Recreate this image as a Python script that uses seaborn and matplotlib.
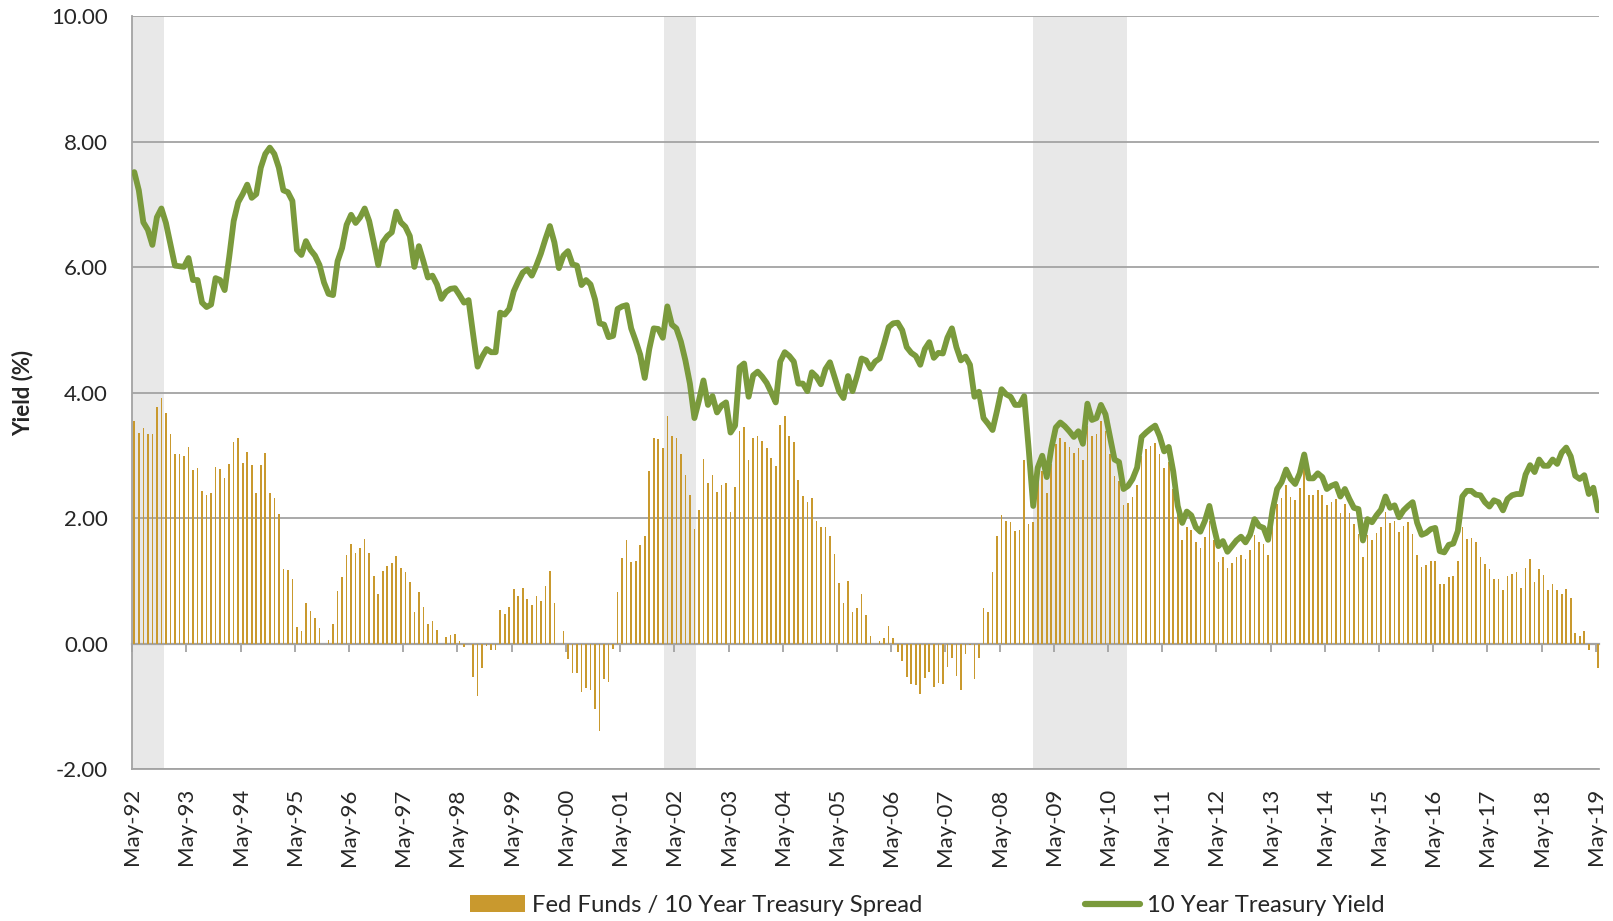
import numpy as np
import pandas as pd
import matplotlib
matplotlib.use("Agg")
import matplotlib.pyplot as plt
from matplotlib.patches import Patch
from matplotlib.lines import Line2D
import seaborn as sns

# ---------------- data (monthly, May-92 .. May-19) ----------------
spread = [
    3.56, 3.37, 3.45, 3.35, 3.35, 3.78, 3.92, 3.68, 3.35, 3.02, 3.02, 3.00,
    3.14, 2.77, 2.80, 2.44, 2.37, 2.41, 2.82, 2.79, 2.64, 2.87, 3.22, 3.28,
    2.89, 3.06, 2.85, 2.41, 2.85, 3.05, 2.40, 2.32, 2.07, 1.19, 1.18, 1.04,
    0.27, 0.20, 0.66, 0.53, 0.42, 0.26, 0.00, 0.06, 0.32, 0.84, 1.07, 1.42,
    1.60, 1.45, 1.53, 1.68, 1.45, 1.08, 0.79, 1.16, 1.24, 1.29, 1.40, 1.21,
    1.15, 0.99, 0.51, 0.83, 0.59, 0.32, 0.37, 0.23, 0.00, 0.11, 0.14, 0.16,
    0.04, -0.05, 0.00, -0.52, -0.83, -0.39, -0.03, -0.10, -0.10, 0.54, 0.48, 0.59,
    0.87, 0.77, 0.90, 0.72, 0.62, 0.77, 0.68, 0.93, 1.16, 0.65, 0.00, 0.20,
    -0.24, -0.46, -0.46, -0.77, -0.70, -0.74, -1.03, -1.38, -0.56, -0.60, -0.08, 0.83,
    1.37, 1.65, 1.30, 1.33, 1.58, 1.72, 2.75, 3.29, 3.27, 3.13, 3.64, 3.32,
    3.28, 3.03, 2.70, 2.38, 1.83, 2.13, 2.95, 2.56, 2.70, 2.43, 2.54, 2.57,
    2.11, 2.50, 3.40, 3.46, 2.93, 3.28, 3.32, 3.24, 3.13, 2.97, 2.83, 3.49,
    3.64, 3.32, 3.22, 2.61, 2.36, 2.27, 2.33, 1.96, 1.86, 1.86, 1.72, 1.44,
    0.97, 0.65, 1.01, 0.51, 0.57, 0.79, 0.47, 0.13, 0.00, 0.04, 0.09, 0.29,
    0.10, -0.12, -0.27, -0.52, -0.63, -0.65, -0.80, -0.54, -0.44, -0.68, -0.62, -0.63,
    -0.36, -0.23, -0.51, -0.73, -0.16, -0.02, -0.56, -0.23, 0.58, 0.51, 1.15, 1.72,
    2.05, 1.96, 1.94, 1.80, 1.82, 2.94, 1.92, 1.94, 2.85, 2.75, 2.40, 2.87,
    3.19, 3.28, 3.22, 3.14, 3.05, 3.13, 2.94, 3.48, 3.32, 3.35, 3.56, 3.39,
    3.03, 2.68, 2.60, 2.21, 2.25, 2.34, 2.54, 2.99, 3.11, 3.16, 3.21, 3.03,
    2.81, 2.90, 2.47, 2.08, 1.66, 1.86, 1.82, 1.62, 1.53, 1.71, 1.96, 1.65,
    1.30, 1.39, 1.21, 1.29, 1.38, 1.42, 1.36, 1.50, 1.73, 1.62, 1.59, 1.42,
    1.90, 2.23, 2.32, 2.54, 2.35, 2.29, 2.49, 2.81, 2.38, 2.38, 2.46, 2.38,
    2.22, 2.27, 2.31, 2.09, 2.23, 2.08, 1.91, 1.75, 1.38, 1.74, 1.66, 1.77,
    1.86, 2.10, 1.93, 1.96, 1.79, 1.88, 1.94, 1.76, 1.42, 1.22, 1.26, 1.32,
    1.33, 0.96, 0.95, 1.07, 1.08, 1.32, 1.86, 1.68, 1.69, 1.63, 1.38, 1.27,
    1.19, 1.04, 1.04, 0.86, 1.08, 1.12, 1.15, 0.90, 1.21, 1.35, 0.98, 1.19,
    1.10, 0.86, 0.95, 0.86, 0.80, 0.88, 0.74, 0.18, 0.13, 0.21, -0.09, 0.00,
    -0.38,
]

treasury_10y = [
    7.52, 7.23, 6.72, 6.60, 6.36, 6.80, 6.94, 6.71, 6.37, 6.03, 6.02, 6.01,
    6.15, 5.80, 5.80, 5.44, 5.37, 5.41, 5.83, 5.80, 5.64, 6.16, 6.74, 7.04,
    7.17, 7.32, 7.11, 7.17, 7.59, 7.81, 7.91, 7.81, 7.59, 7.23, 7.20, 7.06,
    6.28, 6.20, 6.42, 6.28, 6.19, 6.04, 5.76, 5.58, 5.56, 6.10, 6.31, 6.68,
    6.84, 6.71, 6.80, 6.94, 6.74, 6.40, 6.04, 6.40, 6.50, 6.56, 6.89, 6.72,
    6.65, 6.50, 6.01, 6.34, 6.10, 5.84, 5.87, 5.73, 5.50, 5.61, 5.66, 5.67,
    5.56, 5.44, 5.48, 4.94, 4.42, 4.58, 4.70, 4.65, 4.65, 5.28, 5.25, 5.34,
    5.62, 5.78, 5.92, 5.97, 5.87, 6.03, 6.22, 6.45, 6.66, 6.40, 5.99, 6.19,
    6.26, 6.05, 6.03, 5.72, 5.80, 5.73, 5.49, 5.11, 5.09, 4.89, 4.91, 5.34,
    5.38, 5.40, 5.03, 4.83, 4.61, 4.24, 4.70, 5.03, 5.02, 4.88, 5.38, 5.09,
    5.03, 4.82, 4.52, 4.15, 3.60, 3.88, 4.20, 3.81, 3.95, 3.69, 3.80, 3.85,
    3.37, 3.48, 4.41, 4.47, 3.94, 4.28, 4.34, 4.26, 4.16, 4.01, 3.85, 4.50,
    4.65, 4.59, 4.50, 4.15, 4.15, 4.03, 4.33, 4.26, 4.14, 4.38, 4.49, 4.26,
    4.03, 3.92, 4.27, 4.03, 4.27, 4.55, 4.52, 4.39, 4.50, 4.55, 4.79, 5.05,
    5.11, 5.12, 5.00, 4.73, 4.64, 4.59, 4.45, 4.70, 4.81, 4.56, 4.64, 4.63,
    4.88, 5.03, 4.73, 4.52, 4.58, 4.45, 3.94, 4.02, 3.60, 3.51, 3.41, 3.72,
    4.06, 3.98, 3.94, 3.81, 3.81, 3.95, 3.11, 2.20, 2.81, 3.00, 2.66, 3.11,
    3.45, 3.53, 3.47, 3.39, 3.30, 3.39, 3.19, 3.83, 3.57, 3.60, 3.81, 3.66,
    3.30, 2.94, 2.90, 2.47, 2.52, 2.63, 2.81, 3.30, 3.37, 3.43, 3.48, 3.31,
    3.07, 3.14, 2.75, 2.20, 1.93, 2.11, 2.05, 1.86, 1.79, 1.96, 2.20, 1.86,
    1.56, 1.64, 1.47, 1.56, 1.65, 1.71, 1.62, 1.74, 1.99, 1.88, 1.85, 1.66,
    2.14, 2.47, 2.58, 2.78, 2.63, 2.55, 2.72, 3.02, 2.64, 2.64, 2.72, 2.66,
    2.47, 2.52, 2.55, 2.35, 2.47, 2.31, 2.17, 2.15, 1.65, 1.99, 1.94, 2.05,
    2.14, 2.35, 2.17, 2.21, 2.02, 2.13, 2.20, 2.26, 1.93, 1.74, 1.77, 1.83,
    1.85, 1.48, 1.46, 1.58, 1.60, 1.80, 2.35, 2.44, 2.44, 2.38, 2.37, 2.26,
    2.19, 2.29, 2.26, 2.13, 2.31, 2.37, 2.39, 2.39, 2.70, 2.85, 2.74, 2.94,
    2.84, 2.84, 2.94, 2.87, 3.05, 3.13, 2.99, 2.68, 2.63, 2.69, 2.39, 2.49,
    2.13,
]

# shaded periods, in months since May-92
shade_start = [0.0, 117.7, 199.5]
shade_end = [7.0, 124.7, 220.2]

tick_months = [0, 12, 24, 36, 48, 60, 72, 84, 96, 108, 120, 132, 144, 156,
               168, 180, 192, 204, 216, 228, 240, 252, 264, 276, 288, 300, 312, 324]
tick_labels = ["May-92", "May-93", "May-94", "May-95", "May-96", "May-97", "May-98",
               "May-99", "May-00", "May-01", "May-02", "May-03", "May-04", "May-05",
               "May-06", "May-07", "May-08", "May-09", "May-10", "May-11", "May-12",
               "May-13", "May-14", "May-15", "May-16", "May-17", "May-18", "May-19"]
y_ticks = [-2, 0, 2, 4, 6, 8, 10]

series_names = ["Fed Funds / 10 Year Treasury Spread", "10 Year Treasury Yield"]

# ---------------- style ----------------
sns.set_style("white")
plt.rcParams['font.family'] = ['Lato', 'DejaVu Sans']

BAR_C = "#C9992E"
LINE_C = "#7A9A3C"
GRID_C = "#A3A3A3"
SHADE_C = "#E8E8E8"

df = pd.DataFrame({
    "month": np.arange(len(spread)) + 0.45,
    "spread": spread,
    "yield": treasury_10y,
})

fig = plt.figure(figsize=(16.13, 9.21), dpi=100)
ax = fig.add_axes([0.0820, 0.1645, 0.9093, 0.8176])

for s, e in zip(shade_start, shade_end):
    ax.axvspan(s, e, color=SHADE_C, lw=0, zorder=0)

sns.barplot(data=df, x="month", y="spread", native_scale=True, width=0.36,
            color=BAR_C, saturation=1, errorbar=None, ax=ax, zorder=2,
            linewidth=0, edgecolor="none")
sns.lineplot(data=df, x="month", y="yield", color=LINE_C, lw=4.2, ax=ax,
             zorder=3, solid_joinstyle="round", solid_capstyle="round")

ymin, ymax = -2, 10
ax.set_xlim(0, 324.7)
ax.set_ylim(ymin, ymax)

ax.set_yticks(y_ticks)
ax.set_yticklabels([f"{v:.2f}" for v in y_ticks])
ax.yaxis.grid(True, color=GRID_C, lw=1.3)
ax.xaxis.grid(False)
ax.set_axisbelow(True)
ax.tick_params(axis="y", length=6.5, width=1.3, color=GRID_C, pad=11, labelsize=16)

ax.set_xticks(tick_months)
ax.set_xticklabels(tick_labels, rotation=90)
ax.tick_params(axis="x", length=0, pad=13.5, labelsize=16)
ax.set_xlabel("")
ax.set_ylabel("")

for side in ["top", "right"]:
    ax.spines[side].set_visible(False)
ax.spines["left"].set_color(GRID_C)
ax.spines["left"].set_linewidth(1.3)
ax.spines["bottom"].set_color(GRID_C)
ax.spines["bottom"].set_linewidth(1.3)

# zero line axis with tick marks
sec = ax.secondary_xaxis((0 - ymin) / (ymax - ymin))
sec.set_xticks(tick_months)
sec.set_xticklabels([])
sec.tick_params(axis="x", direction="out", length=6, width=1.3, color=GRID_C)
for sp in sec.spines.values():
    sp.set_color(GRID_C)
    sp.set_linewidth(1.6)

fig.text(22.6 / 1613, 0.573, "Yield (%)", rotation=90, ha="center", va="center",
         fontsize=16, fontweight="bold")

handles = [Patch(facecolor=BAR_C, edgecolor="none"),
           Line2D([0], [0], color=LINE_C, lw=4.5)]
fig.legend(handles, series_names, loc="lower center", bbox_to_anchor=(0.575, -0.018),
           ncol=2, frameon=False, fontsize=17.2, handlelength=2.3, handleheight=0.7,
           handletextpad=0.3, columnspacing=6.8)

fig.savefig("out.png", dpi=100)
